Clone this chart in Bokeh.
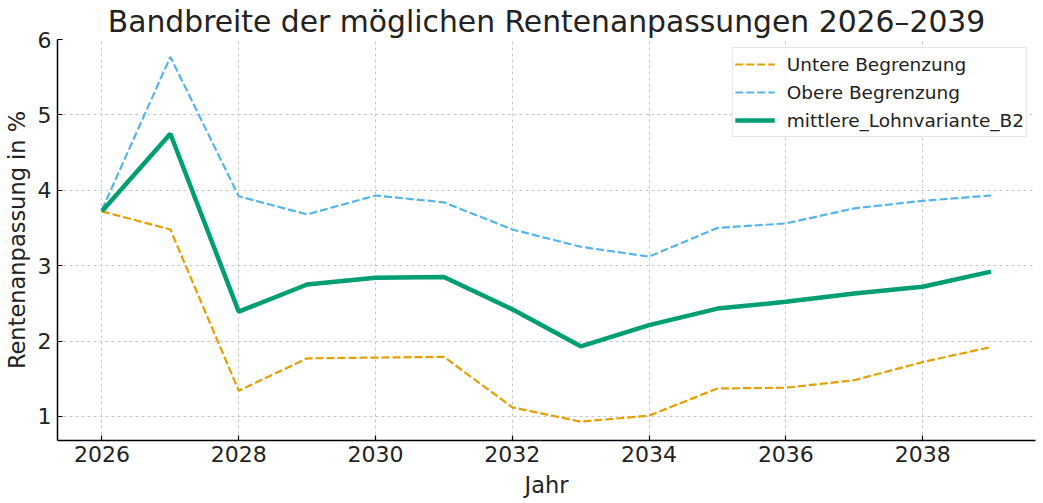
from bokeh.plotting import figure
from bokeh.models import Range1d, FixedTicker, Legend, LegendItem
from bokeh.embed import file_html
from bokeh.resources import INLINE

# data
jahre = list(range(2026, 2040))
untere = [3.72, 3.48, 1.34, 1.77, 1.78, 1.79, 1.12, 0.93, 1.01, 1.37, 1.38, 1.48, 1.72, 1.92]
obere = [3.74, 5.77, 3.92, 3.68, 3.93, 3.84, 3.48, 3.25, 3.12, 3.50, 3.56, 3.76, 3.86, 3.93]
mittel = [3.72, 4.75, 2.39, 2.75, 2.84, 2.85, 2.42, 1.93, 2.21, 2.43, 2.52, 2.63, 2.72, 2.92]
x_ticks = [2026, 2028, 2030, 2032, 2034, 2036, 2038]
y_ticks = [1, 2, 3, 4, 5, 6]

FONT = "DejaVu Sans"
TEXT = "#222222"

p = figure(frame_width=978, frame_height=401,
           x_range=Range1d(2025.35, 2039.65),
           y_range=Range1d(0.68, 6.0),
           min_border_left=53, min_border_top=38,
           min_border_right=4, min_border_bottom=50,
           title="Bandbreite der möglichen Rentenanpassungen 2026–2039",
           toolbar_location=None,
           output_backend="svg")

p.title.align = "center"
p.title.text_font = FONT
p.title.text_font_size = "29.8px"
p.title.text_font_style = "normal"
p.title.text_color = TEXT
p.title.standoff = 2

p.outline_line_color = None

for ax in (p.xaxis, p.yaxis):
    ax.axis_line_color = "black"
    ax.axis_line_width = 1.5
    ax.major_tick_in = 5
    ax.major_tick_out = 0
    ax.major_tick_line_color = "black"
    ax.major_tick_line_width = 1.2
    ax.minor_tick_line_color = None
    ax.major_label_text_font = FONT
    ax.major_label_text_font_size = "22px"
    ax.major_label_text_color = TEXT
    ax.axis_label_text_font = FONT
    ax.axis_label_text_font_size = "22.5px"
    ax.axis_label_text_font_style = "normal"
    ax.axis_label_text_color = TEXT

p.xaxis.ticker = FixedTicker(ticks=x_ticks)
p.yaxis.ticker = FixedTicker(ticks=y_ticks)
p.xaxis.axis_label = "Jahr"
p.yaxis.axis_label = "Rentenanpassung in %"
p.xaxis.major_label_standoff = 5
p.yaxis.major_label_standoff = 6
p.xaxis.axis_label_standoff = 7
p.yaxis.axis_label_standoff = 5

for g in (p.xgrid, p.ygrid):
    g.grid_line_color = "#c8c8c8"
    g.grid_line_width = 1
    g.grid_line_dash = "3 3"

r_unten = p.line(jahre, untere, line_color="#E69F00", line_width=2.2, line_dash="8 3")
r_oben = p.line(jahre, obere, line_color="#56B4E9", line_width=2.2, line_dash="8 3")
r_mitte = p.line(jahre, mittel, line_color="#009E73", line_width=4.5)

legend = Legend(items=[
    LegendItem(label="Untere Begrenzung", renderers=[r_unten]),
    LegendItem(label="Obere Begrenzung", renderers=[r_oben]),
    LegendItem(label="mittlere_Lohnvariante_B2", renderers=[r_mitte]),
], location="top_right")
legend.margin = 8
legend.padding = 2
legend.spacing = 0
legend.label_height = 28
legend.glyph_height = 28
legend.glyph_width = 40
legend.label_standoff = 12
legend.label_text_font = FONT
legend.label_text_font_size = "18.5px"
legend.label_text_color = TEXT
legend.border_line_color = "#cccccc"
legend.border_line_width = 1
legend.background_fill_alpha = 0.85
p.add_layout(legend)

open("out.html", "w").write(file_html(p, INLINE))
